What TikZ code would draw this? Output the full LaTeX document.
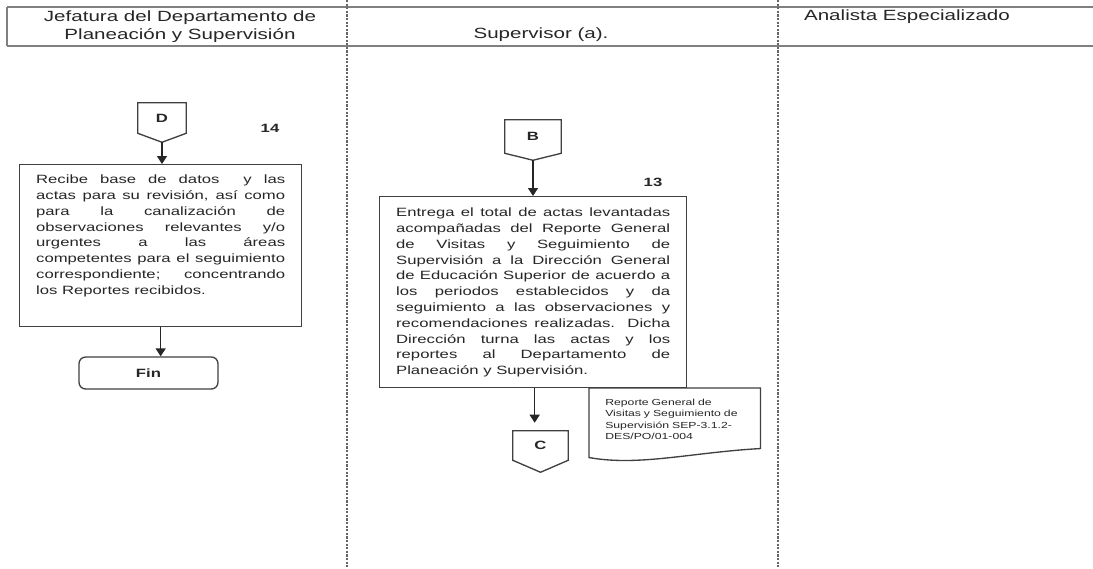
\documentclass[tikz,border=0pt]{standalone}
\usepackage{fontspec}
\setmainfont{Liberation Sans}[FakeStretch=1.39]
\usetikzlibrary{arrows.meta,calc}
\begin{document}
\begin{tikzpicture}[x=0.75pt,y=-0.75pt,
  every node/.style={text=black!85},
  hdr/.style={font=\fontsize{11.1}{13.5}\selectfont, align=center, inner sep=0pt},
  lane/.style={draw=black!60, line width=0.8pt, dash pattern=on 1.6pt off 1.1pt},
  hline/.style={draw=black!50, line width=1pt},
  shapeline/.style={draw=black!75, line width=1pt, line join=miter},
  procbox/.style={draw=black!75, line width=1pt, anchor=north west,
    font=\fontsize{9}{11.85}\selectfont, align=justify, inner xsep=12.375pt, text height=8.3pt},
  docbox/.style={anchor=north west, font=\fontsize{6.6}{8.6}\selectfont, align=left,
    inner xsep=12pt, inner ysep=7.75pt, text width=104.25pt, text height=5pt, text depth=24.5pt},
  offpage/.style={inner sep=0pt, font=\fontsize{9}{11}\selectfont\bfseries},
  endbox/.style={draw=black!75, line width=1pt, rounded corners=5pt, inner sep=0pt,
    minimum width=104.25pt, minimum height=24pt, font=\fontsize{9}{11}\selectfont\bfseries},
  numlbl/.style={inner sep=0pt, font=\fontsize{9}{11}\selectfont\bfseries},
  arr/.style={draw=black!85, line width=1pt, -{Triangle[width=7.5pt,length=6pt]}}
]
\fill[white] (0,0) rectangle (1093,568);
\useasboundingbox (0,0) rectangle (1093,568);

% header
\draw[hline] (7,7) -- (1093,7);
\draw[hline] (7,46) -- (1093,46);
\draw[hline] (7,7) -- (7,46);
\node[hdr] (h1) at (180,27) {Jefatura del Departamento de\\Planeación y Supervisión};
\node[hdr] (h2) at (541,35) {Supervisor (a).};
\node[hdr] (h3) at (907,17) {Analista Especializado};

% lanes
\draw[lane] (347,0) -- (347,568);
\draw[lane] (778,0) -- (778,568);

% column 1
\node[offpage, minimum width=36pt, minimum height=22.5pt] (D) at (162,118) {D};
\coordinate (Dtip) at ($(D.south)+(0,9)$);
\draw[shapeline] (D.south west) -- (D.north west) -- (D.north east) -- (D.south east) -- (Dtip) -- cycle;
\node[numlbl] (n14) at (270,128) {14};

\node[procbox, text width=186.75pt, inner ysep=5.95pt, text depth=101.3pt] (p14) at (19,164)
 {\tolerance=10000 Recibe base de datos \ y las\linebreak
  actas para su revisión, así como\linebreak
  para la canalización de\linebreak
  observaciones relevantes y/o\linebreak
  urgentes a las áreas\linebreak
  competentes para el seguimiento\linebreak
  correspondiente; concentrando\linebreak
  los Reportes recibidos.};

\node[endbox] (fin) at (148.5,373) {Fin};

\draw[arr] (Dtip) -- (Dtip |- p14.north);
\draw[arr] (p14.south) -- (p14.south |- fin.north);

% column 2
\node[offpage, minimum width=42pt, minimum height=24.75pt] (B) at (533,136.5) {B};
\coordinate (Btip) at ($(B.south)+(0,7)$);
\draw[shapeline] (B.south west) -- (B.north west) -- (B.north east) -- (B.south east) -- (Btip) -- cycle;
\node[numlbl] (n13) at (653,182) {13};

\node[procbox, text width=205.5pt, inner ysep=6.7pt, text depth=121.55pt] (p13) at (379,196)
 {\tolerance=10000 Entrega el total de actas levantadas\linebreak
  acompañadas del Reporte General\linebreak
  de Visitas y Seguimiento de\linebreak
  Supervisión a la Dirección General\linebreak
  de Educación Superior de acuerdo a\linebreak
  los periodos establecidos y da\linebreak
  seguimiento a las observaciones y\linebreak
  recomendaciones realizadas. Dicha\linebreak
  Dirección turna las actas y los\linebreak
  reportes al Departamento de\linebreak
  Planeación y Supervisión.};

\node[offpage, minimum width=41.25pt, minimum height=21.75pt] (C) at (540.5,445.5) {C};
\coordinate (Ctip) at ($(C.south)+(0,12)$);
\draw[shapeline] (C.south west) -- (C.north west) -- (C.north east) -- (C.south east) -- (Ctip) -- cycle;

\draw[arr, shorten >=6pt] ($(p13.south)+(1.5,0)$) -- ($(p13.south |- C.north)+(1.5,0)$);

\node[docbox] (doc) at (589,388)
 {Reporte General de\\
  Visitas y Seguimiento de\\
  Supervisión SEP-3.1.2-\\
  DES/PO/01-004};
\draw[shapeline] (doc.south west) -- (doc.north west) -- (doc.north east) -- (doc.south east)
  .. controls ($(doc.south east)+(-70,4)$) and ($(doc.south west)+(50,18)$) .. ($(doc.south west)+(0,9)$)
  -- cycle;

\draw[arr] (Btip) -- (Btip |- p13.north);
\end{tikzpicture}
\end{document}
